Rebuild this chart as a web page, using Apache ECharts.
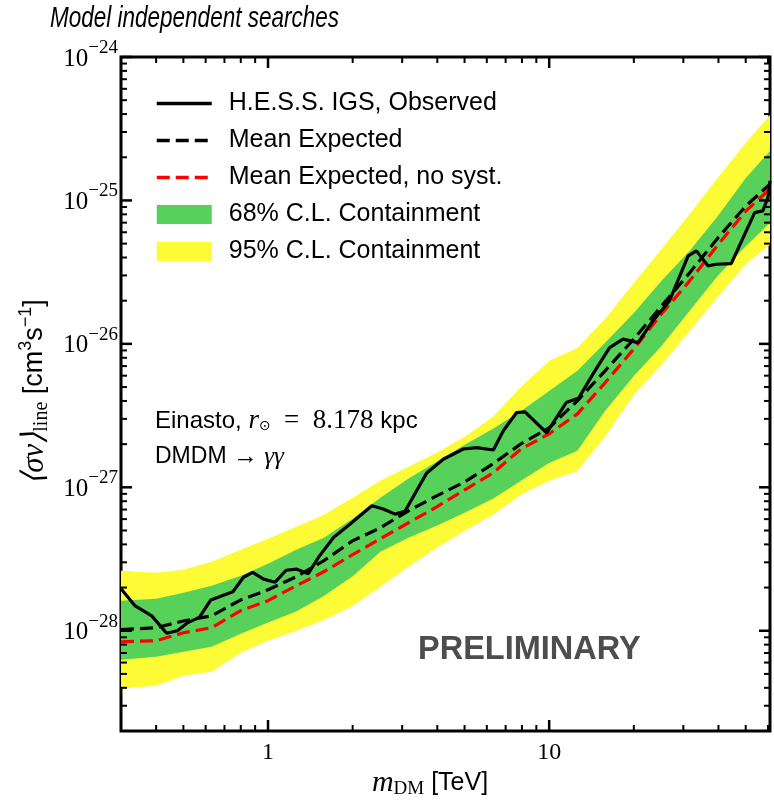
<!DOCTYPE html>
<html>
<head>
<meta charset="utf-8">
<script src="https://cdn.jsdelivr.net/npm/echarts@6/dist/echarts.min.js"></script>
<style>
  html, body { margin: 0; padding: 0; background: #fff; }
  #chart { width: 774px; height: 804px; }
</style>
</head>
<body>
<div id="chart"></div>
<script>
// Dark-matter mass grid (TeV) for the containment bands and expected limits
const massGrid = [0.3, 0.4, 0.5, 0.63, 0.8, 1.0, 1.26, 1.58, 2.0, 2.51, 3.16, 3.98, 5.01, 6.31, 7.94, 10, 12.6, 15.8, 20, 25.1, 31.6, 39.8, 50.1, 61];

// 95% C.L. containment band (cm^3 s^-1)
const band95Low  = [3.94e-29, 4.14e-29, 4.86e-29, 5.18e-29, 7.03e-29, 8.52e-29, 1.00e-28, 1.19e-28, 1.49e-28, 2.03e-28, 2.79e-28, 3.79e-28, 4.98e-28, 6.43e-28, 8.87e-28, 1.11e-27, 1.30e-27, 2.25e-27, 4.41e-27, 7.14e-27, 1.23e-26, 2.13e-26, 3.61e-26, 4.90e-26];
const band95High = [2.62e-28, 2.54e-28, 2.66e-28, 3.03e-28, 3.67e-28, 4.38e-28, 5.31e-28, 6.43e-28, 8.45e-28, 1.11e-27, 1.39e-27, 1.74e-27, 2.25e-27, 3.10e-27, 5.01e-27, 7.62e-27, 9.38e-27, 1.49e-26, 2.66e-26, 4.59e-26, 8.05e-26, 1.44e-25, 2.52e-25, 3.94e-25];

// 68% C.L. containment band
const band68Low  = [6.28e-29, 6.59e-29, 7.14e-29, 7.74e-29, 9.53e-29, 1.14e-28, 1.36e-28, 1.75e-28, 2.40e-28, 3.55e-28, 4.45e-28, 5.39e-28, 6.64e-28, 8.32e-28, 1.11e-27, 1.48e-27, 1.80e-27, 3.41e-27, 5.98e-27, 9.68e-27, 1.70e-26, 2.98e-26, 4.82e-26, 6.97e-26];
const band68High = [1.62e-28, 1.67e-28, 1.84e-28, 2.06e-28, 2.42e-28, 2.93e-28, 3.67e-28, 4.45e-28, 6.03e-28, 8.45e-28, 1.15e-27, 1.51e-27, 1.98e-27, 2.56e-27, 3.41e-27, 4.70e-27, 6.49e-27, 1.02e-26, 1.64e-26, 2.75e-26, 4.45e-26, 7.80e-26, 1.44e-25, 2.21e-25];

// Mean expected limits, with and without systematics
const meanExpected = [1.02e-28, 1.05e-28, 1.17e-28, 1.27e-28, 1.64e-28, 1.93e-28, 2.38e-28, 3.08e-28, 4.24e-28, 5.22e-28, 6.86e-28, 8.72e-28, 1.09e-27, 1.46e-27, 2.01e-27, 2.60e-27, 4.01e-27, 6.49e-27, 1.08e-26, 1.84e-26, 3.13e-26, 5.48e-26, 9.16e-26, 1.30e-25];
const meanExpectedNoSyst = [8.38e-29, 8.52e-29, 9.68e-29, 1.05e-28, 1.38e-28, 1.62e-28, 2.06e-28, 2.58e-28, 3.39e-28, 4.38e-28, 5.66e-28, 7.31e-28, 9.61e-28, 1.26e-27, 1.85e-27, 2.36e-27, 3.25e-27, 5.35e-27, 9.23e-27, 1.62e-26, 2.75e-26, 4.90e-26, 8.45e-26, 1.20e-25];

// Observed H.E.S.S. IGS upper limit
const obsMass  = [0.3, 0.337, 0.386, 0.436, 0.476, 0.519, 0.570, 0.626, 0.683, 0.750, 0.818, 0.882, 0.964, 1.06, 1.16, 1.26, 1.39, 1.52, 1.71, 1.96, 2.34, 2.57, 2.83, 3.07, 3.67, 4.20, 4.95, 5.52, 6.33, 6.87, 7.66, 8.20, 9.79, 11.5, 12.75, 14.3, 16.4, 18.3, 20.7, 23.4, 26.8, 31.2, 33.4, 36.7, 39.3, 44.4, 50.2, 53.8, 57.5, 60.0, 61];
const obsLimit = [1.96e-28, 1.49e-28, 1.27e-28, 9.61e-29, 1.00e-28, 1.14e-28, 1.24e-28, 1.64e-28, 1.75e-28, 1.87e-28, 2.36e-28, 2.55e-28, 2.29e-28, 2.18e-28, 2.64e-28, 2.69e-28, 2.50e-28, 3.30e-28, 4.47e-28, 5.54e-28, 7.43e-28, 7.05e-28, 6.50e-28, 6.80e-28, 1.26e-27, 1.57e-27, 1.85e-27, 1.89e-27, 1.82e-27, 2.48e-27, 3.32e-27, 3.36e-27, 2.40e-27, 3.90e-27, 4.20e-27, 6.15e-27, 9.42e-27, 1.08e-26, 1.02e-26, 1.45e-26, 2.00e-26, 4.10e-26, 4.45e-26, 3.50e-26, 3.59e-26, 3.63e-26, 6.12e-26, 8.22e-26, 8.45e-26, 1.05e-25, 1.37e-25];

// Axis ranges and labelled ticks
const xRange = [0.3, 61];
const yRange = [2e-29, 1e-24];
const xTickLabels = { 1: '1', 10: '10' };

const SANS = '"Liberation Sans", Arial, Helvetica, sans-serif';
const SERIF = '"Liberation Serif", "Times New Roman", serif';
const GREEN = '#58d15a';
const YELLOW = '#fdfb35';

// Decade and sub-decade tick positions for the frame
function logTicks(lo, hi) {
  const major = [], minor = [];
  for (let e = Math.floor(Math.log10(lo)); e <= Math.ceil(Math.log10(hi)); e++) {
    for (let k = 1; k <= 9; k++) {
      const v = k * Math.pow(10, e);
      if (v < lo * 0.999 || v > hi * 1.001) continue;
      (k === 1 ? major : minor).push(v);
    }
  }
  return { major, minor };
}
const xTicks = logTicks(xRange[0], xRange[1]);
const yTicks = logTicks(yRange[0], yRange[1]);

function bandRenderer(lowArr, highArr, color) {
  return function (params, api) {
    if (params.dataIndex !== 0) return;
    const pts = [];
    for (let i = 0; i < massGrid.length; i++) pts.push(api.coord([massGrid[i], highArr[i]]));
    for (let i = massGrid.length - 1; i >= 0; i--) pts.push(api.coord([massGrid[i], lowArr[i]]));
    return { type: 'polygon', shape: { points: pts }, style: { fill: color } };
  };
}

function renderFrameTicks(params, api) {
  const cs = params.coordSys;
  const left = cs.x, right = cs.x + cs.width, top = cs.y, bottom = cs.y + cs.height;
  const children = [];
  const seg = (x1, y1, x2, y2, w) => children.push({
    type: 'line', shape: { x1, y1, x2, y2 }, style: { stroke: '#000', lineWidth: w }
  });
  const MAJ = 11, MIN = 6;
  xTicks.major.forEach(v => { const px = api.coord([v, yRange[0]])[0]; seg(px, bottom, px, bottom - MAJ, 2.5); seg(px, top, px, top + MAJ, 2.5); });
  xTicks.minor.forEach(v => { const px = api.coord([v, yRange[0]])[0]; seg(px, bottom, px, bottom - MIN, 2); seg(px, top, px, top + MIN, 2); });
  yTicks.major.forEach(v => { const py = api.coord([xRange[0], v])[1]; seg(left, py, left + MAJ, py, 2.5); seg(right, py, right - MAJ, py, 2.5); });
  yTicks.minor.forEach(v => { const py = api.coord([xRange[0], v])[1]; seg(left, py, left + MIN, py, 2); seg(right, py, right - MIN, py, 2); });
  return { type: 'group', children };
}

// Power-of-ten label, blank for any other tick value
function powerLabel(v) {
  if (!(v > 0) || !isFinite(v)) return '';
  const e = Math.log10(v);
  if (!isFinite(e) || Math.abs(e - Math.round(e)) > 1e-6) return '';
  const n = Math.round(e);
  if (n < -28 || n > -24) return '';
  return '{b|10}{s|\u2212' + (-n) + '}';
}

const DASH = [13, 6];
const hideSymbol = { opacity: 0 };

const option = {
  animation: false,
  backgroundColor: '#fff',
  grid: { left: 121, right: 4, top: 57, bottom: 73, containLabel: false, outerBoundsMode: 'none',
          show: true, borderColor: '#000', borderWidth: 3, backgroundColor: 'transparent' },
  xAxis: {
    type: 'log', logBase: 10, min: xRange[0], max: xRange[1],
    axisLine: { show: false }, axisTick: { show: false }, splitLine: { show: false }, minorTick: { show: false },
    axisLabel: {
      margin: 10, color: '#000', fontFamily: SERIF, fontSize: 24, showMinLabel: true, showMaxLabel: true, hideOverlap: false,
      formatter: v => { const r = Math.round(v * 1000) / 1000; return xTickLabels[r] || ''; }
    }
  },
  yAxis: {
    type: 'log', logBase: 10, min: yRange[0], max: yRange[1],
    axisLine: { show: false }, axisTick: { show: false }, splitLine: { show: false }, minorTick: { show: false },
    axisLabel: {
      margin: 3, color: '#000', showMinLabel: true, showMaxLabel: true, hideOverlap: false,
      formatter: powerLabel,
      rich: {
        b: { fontFamily: SERIF, fontSize: 25, color: '#000', padding: [4, 0, 0, 0] },
        s: { fontFamily: SERIF, fontSize: 19, color: '#000', padding: [0, 0, 18, 0] }
      }
    }
  },
  legend: {
    orient: 'vertical', left: 155, top: 91, padding: 0, itemWidth: 55, itemHeight: 19, itemGap: 12,
    selectedMode: false,
    textStyle: { fontFamily: SANS, fontSize: 25, color: '#000', padding: [0, 0, 0, 12] },
    data: [
      { name: 'H.E.S.S. IGS, Observed', itemStyle: hideSymbol, lineStyle: { width: 3.5 } },
      { name: 'Mean Expected', itemStyle: hideSymbol, lineStyle: { width: 3.5 } },
      { name: 'Mean Expected, no syst.', itemStyle: hideSymbol, lineStyle: { width: 3.5 } },
      { name: '68% C.L. Containment', icon: 'rect' },
      { name: '95% C.L. Containment', icon: 'rect' }
    ]
  },
  graphic: [
    { type: 'text', x: 50, y: 19, scaleX: 0.75,
      style: { text: 'Model independent searches', fontFamily: SANS, fontStyle: 'italic', fontSize: 30, fill: '#000', align: 'left', verticalAlign: 'middle' } },
    { type: 'text', x: 35, y: 392, rotation: Math.PI / 2,
      style: {
        text: '{m|\u27e8\u03c3v\u27e9}{sub|line}{u| [cm}{sup|3}{u|s}{sup|\u22121}{u|]}',
        align: 'center', verticalAlign: 'middle',
        rich: {
          m: { fontFamily: SERIF, fontStyle: 'italic', fontSize: 31, fill: '#000' },
          sub: { fontFamily: SERIF, fontSize: 20, fill: '#000', padding: [13, 0, 0, 0] },
          u: { fontFamily: SANS, fontSize: 27, fill: '#000' },
          sup: { fontFamily: SANS, fontSize: 18, fill: '#000', padding: [0, 0, 17, 0] }
        }
      } },
    { type: 'text', x: 430, y: 783,
      style: {
        text: '{m|m}{sub|DM}{u| [TeV]}',
        align: 'center', verticalAlign: 'middle',
        rich: {
          m: { fontFamily: SERIF, fontStyle: 'italic', fontSize: 30, fill: '#000' },
          sub: { fontFamily: SERIF, fontSize: 19, fill: '#000', padding: [12, 0, 0, 0] },
          u: { fontFamily: SANS, fontSize: 25, fill: '#000' }
        }
      } },
    { type: 'text', x: 155, y: 421,
      style: {
        text: '{s|Einasto, }{mi|r}{sub|\u2299}{m|  =  8.178 }{s|kpc}',
        align: 'left', verticalAlign: 'middle',
        rich: {
          s: { fontFamily: SANS, fontSize: 24, fill: '#000' },
          mi: { fontFamily: SERIF, fontStyle: 'italic', fontSize: 27, fill: '#000' },
          sub: { fontFamily: '"DejaVu Sans", sans-serif', fontSize: 14, fill: '#000', padding: [10, 0, 0, 0] },
          m: { fontFamily: SERIF, fontSize: 27, fill: '#000' }
        }
      } },
    { type: 'text', x: 155, y: 457,
      style: {
        text: '{s|DMDM }{m|\u2192 }{mi|\u03b3\u03b3}',
        align: 'left', verticalAlign: 'middle',
        rich: {
          s: { fontFamily: SANS, fontSize: 23, fill: '#000' },
          m: { fontFamily: SERIF, fontSize: 25, fill: '#000' },
          mi: { fontFamily: SERIF, fontStyle: 'italic', fontSize: 25, fill: '#000' }
        }
      } },
    { type: 'text', x: 418, y: 650,
      style: { text: 'PRELIMINARY', fontFamily: SANS, fontWeight: 'bold', fontSize: 32.5, fill: '#4d4d4d', align: 'left', verticalAlign: 'middle' } }
  ],
  series: [
    {
      name: '95% C.L. Containment', type: 'custom', coordinateSystem: 'cartesian2d', silent: true,
      itemStyle: { color: YELLOW }, encode: { x: 0, y: [1, 2] },
      data: massGrid.map((m, i) => [m, band95Low[i], band95High[i]]),
      renderItem: bandRenderer(band95Low, band95High, YELLOW), z: 1
    },
    {
      name: '68% C.L. Containment', type: 'custom', coordinateSystem: 'cartesian2d', silent: true,
      itemStyle: { color: GREEN }, encode: { x: 0, y: [1, 2] },
      data: massGrid.map((m, i) => [m, band68Low[i], band68High[i]]),
      renderItem: bandRenderer(band68Low, band68High, GREEN), z: 2
    },
    {
      name: 'Mean Expected', type: 'line', symbol: 'none', silent: true, z: 3,
      lineStyle: { color: '#000', width: 3.2, type: DASH },
      itemStyle: { color: '#000' },
      data: massGrid.map((m, i) => [m, meanExpected[i]])
    },
    {
      name: 'Mean Expected, no syst.', type: 'line', symbol: 'none', silent: true, z: 4,
      lineStyle: { color: '#ff0000', width: 3.2, type: DASH },
      itemStyle: { color: '#ff0000' },
      data: massGrid.map((m, i) => [m, meanExpectedNoSyst[i]])
    },
    {
      name: 'H.E.S.S. IGS, Observed', type: 'line', symbol: 'none', silent: true, z: 5,
      lineStyle: { color: '#000', width: 3.2 },
      itemStyle: { color: '#000' },
      data: obsMass.map((m, i) => [m, obsLimit[i]])
    },
    {
      name: 'frameTicks', type: 'custom', coordinateSystem: 'cartesian2d', silent: true, z: 10,
      data: [[1, 1e-27]], renderItem: renderFrameTicks
    }
  ]
};

const chart = echarts.init(document.getElementById('chart'), null, { renderer: 'canvas' });
chart.setOption(option);
</script>
</body>
</html>
